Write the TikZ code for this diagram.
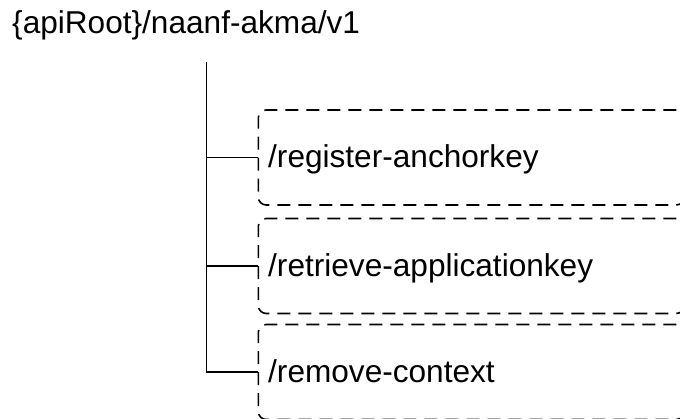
\documentclass[tikz,border=0pt]{standalone}
\usepackage{fontspec}
\setmainfont{Liberation Sans}
\begin{document}
\begin{tikzpicture}[x=1pt,y=1pt,
  lbl/.style={inner sep=0pt, anchor=base west, font=\fontsize{31.6}{38}\selectfont},
  dbox/.style={draw, line width=1.6pt, dash pattern=on 13pt off 8pt, rounded corners=8pt,
    minimum width=426pt, minimum height=95pt, anchor=west, inner sep=0pt},
  tree/.style={line width=1.7pt}]
\useasboundingbox (0,0) rectangle (680,-419);
\clip (0,0) rectangle (680,-419);
\node[lbl] (title) at (12,-34) {\{apiRoot\}/naanf-akma/v1};
\coordinate (root) at (206.5,-62);
\node[dbox] (b1) at (257.5,-157.5) {};
\node[dbox] (b2) at (257.5,-266) {};
\node[dbox] (b3) at (257.5,-372) {};
\node[lbl] (t1) at (268,-168) {/register-anchorkey};
\node[lbl] (t2) at (268,-277) {/retrieve-applicationkey};
\node[lbl] (t3) at (268,-383) {/remove-context};
\draw[tree] (root) |- (b1.west);
\draw[tree] (root) |- (b2.west);
\draw[tree] (root) |- (b3.west);
\end{tikzpicture}
\end{document}
